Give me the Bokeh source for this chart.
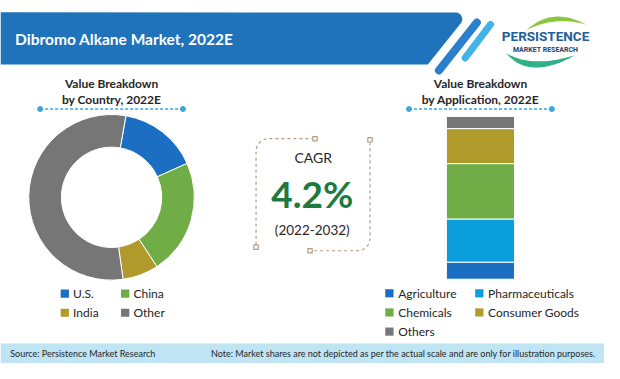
import numpy as np
from bokeh.plotting import figure
from bokeh.models import Range1d
from bokeh.core.properties import value
from bokeh.embed import file_html
from bokeh.resources import INLINE

# ---------------- data ----------------
chart_title = "Dibromo Alkane Market, 2022E"
country_title = ["Value Breakdown", "by Country, 2022E"]
country_labels = ["U.S.", "China", "India", "Other"]
country_shares = [15.5, 22.5, 7.0, 55.0]
country_colors = ["#1b6ec2", "#70ad47", "#b09a2c", "#767676"]

app_title = ["Value Breakdown", "by Application, 2022E"]
app_labels = ["Agriculture", "Pharmaceuticals", "Chemicals", "Consumer Goods", "Others"]
app_shares = [10.5, 26.5, 34.0, 21.5, 7.5]
app_colors = ["#1b6ec2", "#0a9fdc", "#70ad47", "#b09a2c", "#767676"]

cagr_label = "CAGR"
cagr_value = "4.2%"
cagr_period = "(2022-2032)"

source_text = "Source: Persistence Market Research"
note_text = "Note: Market shares are not depicted as per the actual scale and are only for illustration purposes."

# ---------------- canvas ----------------
W, H = 620, 379


def Y(v):
    return H - np.asarray(v, dtype=float)


p = figure(width=604, height=363, x_range=Range1d(0, W), y_range=Range1d(0, H),
           output_backend="svg", toolbar_location=None, min_border=0,
           x_axis_location=None, y_axis_location=None)
p.grid.visible = False
p.outline_line_color = None
p.background_fill_color = "white"
p.border_fill_color = "white"

FONT = "Lato"
DARK = "#262626"


def txt(xs, ys, texts, size, color=DARK, style="normal", align="left", font=FONT):
    p.text(x=list(xs), y=list(Y(ys)), text=list(texts), text_font=value(font),
           text_font_size=value(f"{size}px"), text_font_style=style,
           text_color=color, text_align=align, text_baseline="middle")


# ---------------- header ----------------
cx, cy, r = 467.0, 19.5, 7.0
a_end = np.degrees(np.arctan2(0.62, 0.785))
angs = np.radians(np.linspace(-90, a_end, 12))
corner_x = cx + r * np.cos(angs)
corner_y = cy + r * np.sin(angs)
ex, ey = corner_x[-1], corner_y[-1]
bot_y = 66.7
bot_x = ex - 0.79 * (bot_y - ey)
band_x = [0, *corner_x, bot_x, 0]
band_y = [12.3, *corner_y, bot_y, bot_y]
p.patch(x=band_x, y=list(Y(band_y)), fill_color="#1f73ba", line_color=None)

p.line(x=[450, 489], y=list(Y([73, 23])), line_width=8, line_color="#2a80cc", line_cap="round")
p.line(x=[477, 503], y=list(Y([60, 25])), line_width=7, line_color="#41b3e6", line_cap="round")

txt([15], [40], [chart_title], 15.5, color="white", style="bold")

# logo
t = np.linspace(0, 1, 30)


def qbez(p0, c, p1):
    return ((1 - t) ** 2 * p0[0] + 2 * (1 - t) * t * c[0] + t ** 2 * p1[0],
            (1 - t) ** 2 * p0[1] + 2 * (1 - t) * t * c[1] + t ** 2 * p1[1])


ox, oy = qbez((540, 31), (566, 6), (601, 25))
ix, iy = qbez((601, 25), (568, 16), (540, 31))
p.patch(x=list(ox) + list(ix), y=list(Y(list(oy) + list(iy))), fill_color="#8dc63f", line_color=None)
ox, oy = qbez((519, 55), (543, 84), (590, 57))
ix, iy = qbez((590, 57), (546, 71), (519, 55))
p.patch(x=list(ox) + list(ix), y=list(Y(list(oy) + list(iy))), fill_color="#2faf8a", line_color=None)
txt([559.5], [37.5], ["PERSISTENCE"], 13.5, color="#1d5e9c", style="bold",
    align="center", font="Roboto")
txt([559.5], [51.5], ["MARKET RESEARCH"], 7, color="#1d3f6e", style="bold", align="center",
    font="Roboto")

# ---------------- section titles ----------------
for cxx, lines, x0, x1 in [(114, country_title, 40.7, 187.3), (492.7, app_title, 419.3, 566)]:
    txt([cxx, cxx], [86.7, 103], lines, 12, style="bold", align="center")
    p.line(x=[x0, x1], y=list(Y([113.3, 113.3])), line_color="#3ba7dd", line_width=1.3, line_dash="3 2")
    p.scatter(x=[x0, x1], y=list(Y([113.3, 113.3])), size=5, color="#3ba7dd")

# ---------------- donut ----------------
start_offset = 10.0  # degrees clockwise from 12 o'clock
cum = np.concatenate([[0], np.cumsum(country_shares)])
th0 = start_offset + cum[:-1] * 3.6
th1 = start_offset + cum[1:] * 3.6
p.annular_wedge(x=114, y=float(Y(205.5)), inner_radius=51.5, outer_radius=85,
                start_angle=list(np.radians(90 - th0)), end_angle=list(np.radians(90 - th1)),
                direction="clock", fill_color=country_colors, line_color="white", line_width=1)

# country legend (2 x 2)
lx_sq = [66, 128, 66, 128]
ly = [306, 306, 326, 326]
p.rect(x=lx_sq, y=list(Y(ly)), width=8.5, height=8.5, fill_color=country_colors, line_color=None)
txt([x + 8.5 for x in lx_sq], ly, country_labels, 12)

# ---------------- stacked bar ----------------
bar_bottom_ref, bar_top_ref = 291.0, 121.0
pix = bar_bottom_ref - bar_top_ref
rs = -(H - bar_bottom_ref) / pix * 100
p.extra_y_ranges = {"share": Range1d(rs, rs + 100 * H / pix)}
acum = np.concatenate([[0], np.cumsum(app_shares)])
p.vbar(x=[492.7] * len(app_shares), width=70, bottom=list(acum[:-1]), top=list(acum[1:]),
       y_range_name="share", fill_color=app_colors, line_color="white", line_width=1)

ax_sq = [399.2, 491.5, 399.2, 491.5, 399.2]
ay = [305.7, 305.7, 325.7, 325.7, 345.7]
p.rect(x=ax_sq, y=list(Y(ay)), width=8.5, height=8.5, fill_color=app_colors, line_color=None)
txt([x + 9 for x in ax_sq], ay, app_labels, 12)

# ---------------- CAGR ----------------
BR = "#b49b84"
rr = 13.0
a = np.radians(np.linspace(180, 270, 12))
tl_x = [262.3, 262.3, *(262.3 + rr + rr * np.cos(a)), 320]
tl_y = [255, 157.3, *(144.3 + rr + rr * np.sin(a)), 144.3]
p.line(x=tl_x, y=list(Y(tl_y)), line_color=BR, line_width=1.2, line_dash="3 3")
a = np.radians(np.linspace(0, 90, 12))
br_x = [379.3, 379.3, *(379.3 - rr + rr * np.cos(a)), 320]
br_y = [148, 248.3, *(261.3 - rr + rr * np.sin(a)), 261.3]
p.line(x=br_x, y=list(Y(br_y)), line_color=BR, line_width=1.2, line_dash="3 3")
p.rect(x=[322.8, 262.3, 379.3, 317.7], y=list(Y([144.3, 257.5, 145.5, 261.3])),
       width=4.5, height=4.5, fill_color="white", line_color=BR, line_width=1.2)

txt([321], [164], [cagr_label], 14, align="center")
txt([320], [202], [cagr_value], 37, color="#1c7a40", style="bold", align="center")
txt([320], [240], [cagr_period], 13.5, align="center")

# ---------------- footer ----------------
p.quad(left=[0], right=[W], bottom=[0], top=[float(Y(358))], fill_color="#bfe4f4", line_color=None)
txt([10], [368.5], [source_text], 9)
txt([611], [368.5], [note_text], 9, align="right")

open("out.html", "w").write(file_html(p, INLINE))
